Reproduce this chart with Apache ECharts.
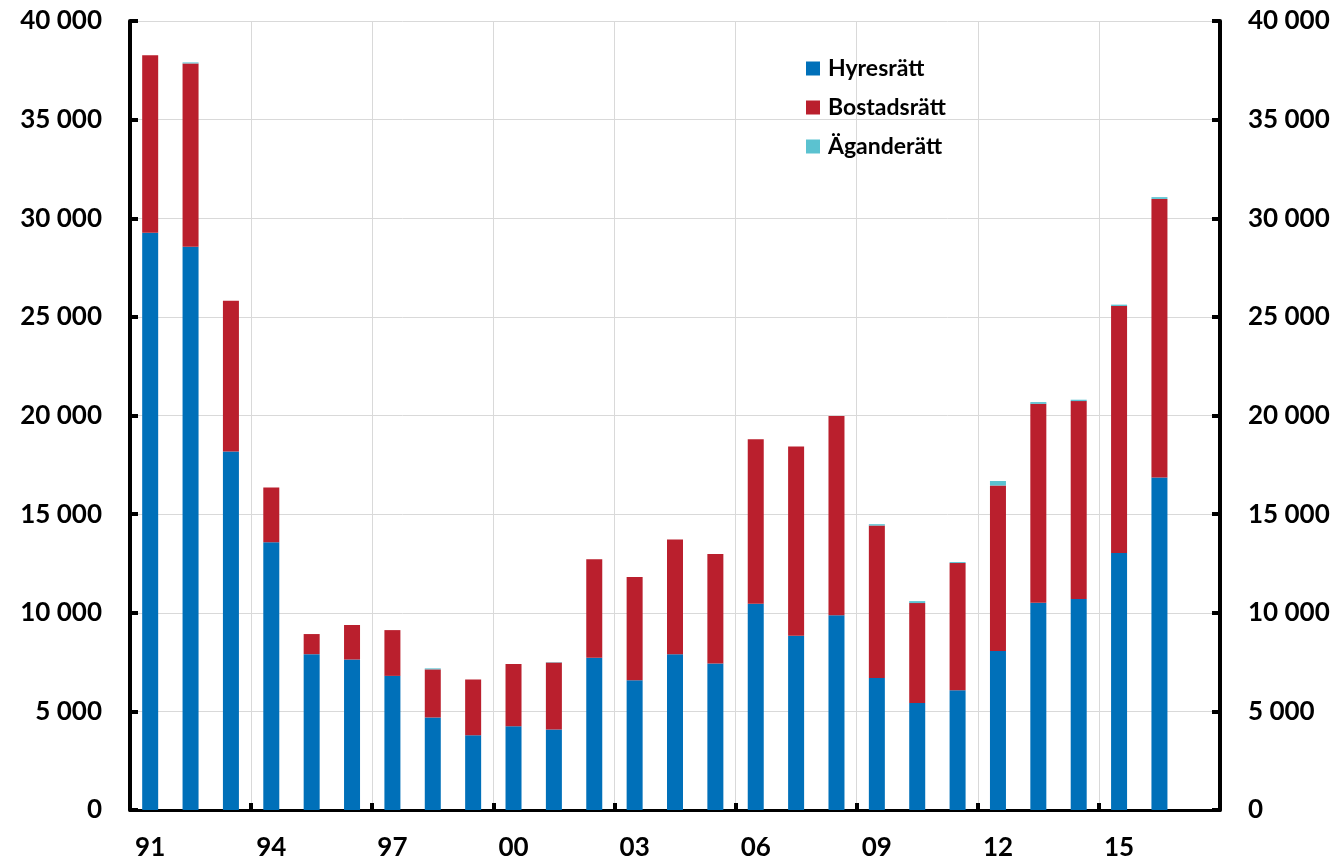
<!DOCTYPE html>
<html>
<head>
<meta charset="utf-8">
<script src="https://cdn.jsdelivr.net/npm/echarts@6/dist/echarts.min.js"></script>
<style>
  html, body { margin: 0; padding: 0; background: #fff; }
  #chart { width: 1338px; height: 862px; }
</style>
</head>
<body>
<div id="chart"></div>
<script>
var chart = echarts.init(document.getElementById("chart"));

// år 1991-2017 (2017 tom kategori)
var years = ['91', '92', '93', '94', '95', '96', '97', '98', '99', '00', '01', '02', '03',
    '04', '05', '06', '07', '08', '09', '10', '11', '12', '13', '14', '15', '16', '17'];

var hyresratt = [29260, 28560, 18170, 13570, 7900, 7630, 6800, 4690, 3790, 4250, 4080, 7720, 6580,
    7900, 7430, 10460, 8830, 9870, 6690, 5420, 6070, 8060, 10510, 10700, 13030, 16860];
var bostadsratt = [9000, 9290, 7650, 2780, 1020, 1750, 2320, 2440, 2830, 3150, 3400, 4990, 5230,
    5810, 5550, 8340, 9600, 10100, 7730, 5070, 6450, 8390, 10080, 10030, 12520, 14120];
var aganderatt = [0, 50, 0, 0, 0, 0, 0, 50, 0, 0, 20, 0, 0,
    0, 0, 0, 0, 0, 70, 100, 50, 230, 90, 70, 70, 90];

var yTicks = [0, 5000, 10000, 15000, 20000, 25000, 30000, 35000, 40000];

var fontFamily = "Lato";
var gridColor = "#d9d9d9";

function fmt(v) {
    // tusentalsavgränsare med mellanslag
    return String(v).replace(/\B(?=(\d{3})+(?!\d))/g, ' ');
}

function yAxisCfg(pos) {
    return {
        type: 'value',
        position: pos,
        min: yTicks[0],
        max: yTicks[yTicks.length - 1],
        interval: yTicks[1] - yTicks[0],
        axisLine: { show: true, lineStyle: { color: '#000', width: 4 } },
        axisTick: { show: true, inside: true, length: 8, lineStyle: { color: '#000', width: 4 } },
        axisLabel: {
            margin: 28,
            color: '#000',
            fontFamily: fontFamily,
            fontWeight: 'bold',
            fontSize: 26,
            formatter: fmt
        },
        splitLine: { show: pos === 'left', lineStyle: { color: gridColor, width: 1 } }
    };
}

var option = {
    backgroundColor: '#fff',
    animation: false,
    grid: { left: 130, right: 118, top: 21, bottom: 52, containLabel: false },
    legend: {
        orient: 'vertical',
        left: 801,
        top: 52,
        itemWidth: 14,
        itemHeight: 14,
        itemGap: 16,
        icon: 'rect',
        textStyle: {
            color: '#000',
            fontFamily: fontFamily,
            fontWeight: 'bold',
            fontSize: 23,
            lineHeight: 23,
            padding: [0, 0, 0, 3]
        },
        data: ['Hyresrätt', 'Bostadsrätt', 'Äganderätt']
    },
    xAxis: {
        type: 'category',
        data: years,
        boundaryGap: true,
        axisLine: { show: true, lineStyle: { color: '#000', width: 3 } },
        axisTick: { show: true, inside: true, interval: 2, length: 7, lineStyle: { color: '#000', width: 4 } },
        axisLabel: {
            interval: 2,
            margin: 25,
            color: '#000',
            fontFamily: fontFamily,
            fontWeight: 'bold',
            fontSize: 26
        },
        splitLine: { show: true, interval: 2, lineStyle: { color: gridColor, width: 1 } }
    },
    yAxis: [yAxisCfg('left'), yAxisCfg('right')],
    series: [
        {
            name: 'Hyresrätt',
            type: 'bar',
            stack: 'tot',
            barWidth: 16,
            itemStyle: { color: '#0070b9' },
            data: hyresratt
        },
        {
            name: 'Bostadsrätt',
            type: 'bar',
            stack: 'tot',
            barWidth: 16,
            itemStyle: { color: '#ba1f2d' },
            data: bostadsratt
        },
        {
            name: 'Äganderätt',
            type: 'bar',
            stack: 'tot',
            barWidth: 16,
            itemStyle: { color: '#5bc2d0' },
            data: aganderatt
        }
    ]
};

chart.setOption(option);
</script>
</body>
</html>
